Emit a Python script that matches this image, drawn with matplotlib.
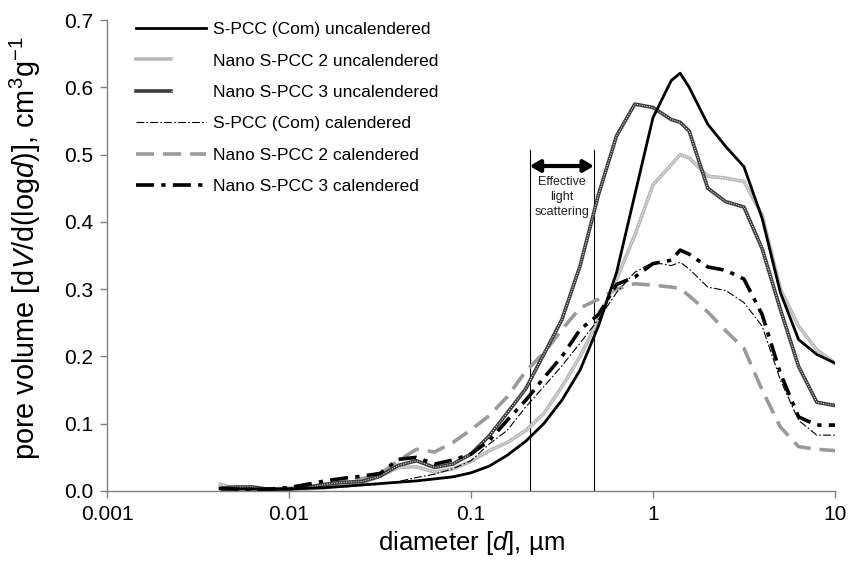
import matplotlib
matplotlib.use("Agg")
import matplotlib.pyplot as plt
from matplotlib.legend_handler import HandlerTuple
import numpy as np

plt.rcParams['font.family'] = ['Liberation Sans', 'DejaVu Sans']
plt.rcParams['mathtext.fontset'] = 'custom'
plt.rcParams['mathtext.rm'] = 'Liberation Sans'
plt.rcParams['mathtext.it'] = 'Liberation Sans:italic'

diameter_um = [0.0042, 0.0050, 0.0063, 0.0079, 0.010, 0.0126, 0.0158, 0.020, 0.0251,
               0.0316, 0.0398, 0.0501, 0.0631, 0.0794, 0.100, 0.126, 0.158, 0.200,
               0.251, 0.316, 0.398, 0.501, 0.631, 0.794, 1.00, 1.26, 1.41, 1.58,
               2.00, 2.51, 3.16, 3.98, 5.01, 6.31, 7.94, 10.0]

spcc_com_uncal = [0.004, 0.003, 0.003, 0.003, 0.003, 0.004, 0.005, 0.007, 0.009,
                  0.011, 0.013, 0.015, 0.018, 0.021, 0.027, 0.037, 0.053, 0.074,
                  0.100, 0.135, 0.180, 0.245, 0.325, 0.440, 0.555, 0.610, 0.621, 0.600,
                  0.545, 0.512, 0.482, 0.405, 0.295, 0.225, 0.203, 0.190]
nano2_uncal = [0.010, 0.004, 0.003, 0.002, 0.003, 0.003, 0.005, 0.008, 0.012,
               0.022, 0.035, 0.036, 0.028, 0.033, 0.044, 0.060, 0.072, 0.090,
               0.115, 0.155, 0.200, 0.255, 0.315, 0.380, 0.455, 0.485, 0.500, 0.495,
               0.468, 0.465, 0.460, 0.410, 0.300, 0.245, 0.210, 0.190]
nano3_uncal = [0.004, 0.006, 0.006, 0.002, 0.003, 0.005, 0.010, 0.013, 0.014,
               0.022, 0.038, 0.045, 0.035, 0.040, 0.055, 0.082, 0.116, 0.152,
               0.203, 0.255, 0.335, 0.440, 0.528, 0.575, 0.570, 0.552, 0.548, 0.535,
               0.450, 0.430, 0.422, 0.360, 0.270, 0.185, 0.132, 0.127]
spcc_com_cal = [0.003, 0.002, 0.002, 0.002, 0.003, 0.004, 0.005, 0.006, 0.008,
                0.010, 0.014, 0.020, 0.025, 0.033, 0.045, 0.070, 0.090, 0.125,
                0.155, 0.186, 0.220, 0.255, 0.295, 0.325, 0.340, 0.335, 0.340, 0.330,
                0.303, 0.298, 0.280, 0.245, 0.165, 0.105, 0.083, 0.083]
nano2_cal = [0.006, 0.003, 0.002, 0.003, 0.004, 0.006, 0.010, 0.013, 0.018,
             0.025, 0.045, 0.062, 0.058, 0.072, 0.091, 0.112, 0.140, 0.178,
             0.205, 0.240, 0.272, 0.285, 0.300, 0.308, 0.306, 0.303, 0.301, 0.290,
             0.266, 0.238, 0.212, 0.150, 0.095, 0.066, 0.062, 0.060]
nano3_cal = [0.003, 0.003, 0.002, 0.003, 0.005, 0.010, 0.015, 0.019, 0.022,
             0.026, 0.047, 0.050, 0.040, 0.046, 0.055, 0.075, 0.105, 0.135,
             0.168, 0.200, 0.240, 0.262, 0.307, 0.318, 0.338, 0.343, 0.358, 0.352,
             0.333, 0.328, 0.315, 0.262, 0.175, 0.110, 0.098, 0.098]

labels = ["S-PCC (Com) uncalendered", "Nano S-PCC 2 uncalendered",
          "Nano S-PCC 3 uncalendered", "S-PCC (Com) calendered",
          "Nano S-PCC 2 calendered", "Nano S-PCC 3 calendered"]

scatter_range = [0.21, 0.474]
x_ticks = [0.001, 0.01, 0.1, 1, 10]
x_ticklabels = ["0.001", "0.01", "0.1", "1", "10"]
y_ticks = [0.0, 0.1, 0.2, 0.3, 0.4, 0.5, 0.6, 0.7]

fig = plt.figure(figsize=(8.48, 5.68), dpi=100)
ax = fig.add_axes([107/848, 1-491/568, 728/848, 471/568])

h1, = ax.plot(diameter_um, spcc_com_uncal, color='black', lw=2.0, zorder=6)
b2, = ax.plot(diameter_um, nano2_uncal, color='#b8b8b8', lw=2.6, zorder=4)
o2, = ax.plot(diameter_um, nano2_uncal, color='white', lw=0.7, dashes=(1, 1.5), zorder=4.1)
b3, = ax.plot(diameter_um, nano3_uncal, color='#3c3c3c', lw=2.6, zorder=5)
o3, = ax.plot(diameter_um, nano3_uncal, color='white', lw=0.7, dashes=(1, 1.5), zorder=5.1)
h4, = ax.plot(diameter_um, spcc_com_cal, color='black', lw=0.8, dashes=(7, 2, 1.5, 2), zorder=6)
h5, = ax.plot(diameter_um, nano2_cal, color='#9a9a9a', lw=2.6, dashes=(5, 2.5), zorder=3)
h6, = ax.plot(diameter_um, nano3_cal, color='black', lw=2.6, dashes=(5, 2, 1.2, 2), zorder=6)

ax.set_xscale('log')
ax.set_xlim(0.001, 10)
ax.set_ylim(0, 0.7)
ax.set_xticks(x_ticks)
ax.set_xticklabels(x_ticklabels)
ax.xaxis.set_minor_locator(matplotlib.ticker.NullLocator())
ax.set_yticks(y_ticks)
ax.set_yticklabels([f"{v:.1f}" for v in y_ticks])

for s in ['top', 'right']:
    ax.spines[s].set_visible(False)
for s in ['left', 'bottom']:
    ax.spines[s].set_color('#808080')
    ax.spines[s].set_linewidth(1.0)
ax.tick_params(axis='both', direction='out', length=5, width=1, color='#808080',
               labelsize=15, pad=5)

ax.set_xlabel(r"diameter [$d$], µm", fontsize=18.5, labelpad=4)
ylab = ax.set_ylabel(r"pore volume [d$V$/d(log$d$)], cm$^3$g$^{-1}$", fontsize=18.5)
ax.yaxis.set_label_coords(-0.088, 0.515)

# fit y-label length to the reference
fig.canvas.draw()
bb = ylab.get_window_extent(fig.canvas.get_renderer())
ylab.set_fontsize(18.5 * 425.0 / bb.height)

for xv in scatter_range:
    ax.plot([xv, xv], [0, 0.507], color='black', lw=0.8, zorder=2)
ax.annotate('', xy=(scatter_range[0], 0.483), xytext=(scatter_range[1], 0.483),
            arrowprops=dict(arrowstyle='<|-|>,head_length=0.6,head_width=0.35',
                            lw=3, color='black', shrinkA=0, shrinkB=0))
ax.text(np.sqrt(scatter_range[0]*scatter_range[1]), 0.437, "Effective\nlight\nscattering",
        ha='center', va='center', fontsize=9, linespacing=1.3, color='#222222')

leg = ax.legend([h1, (b2, o2), (b3, o3), h4, h5, h6], labels,
                handler_map={tuple: HandlerTuple(ndivide=None, pad=0)},
                loc='upper left', bbox_to_anchor=(0.04, 0.996), frameon=False,
                borderpad=0, borderaxespad=0,
                fontsize=12.5, handlelength=4.0, handletextpad=0.4, labelspacing=0.94)

fig.savefig('out.png', dpi=100)
